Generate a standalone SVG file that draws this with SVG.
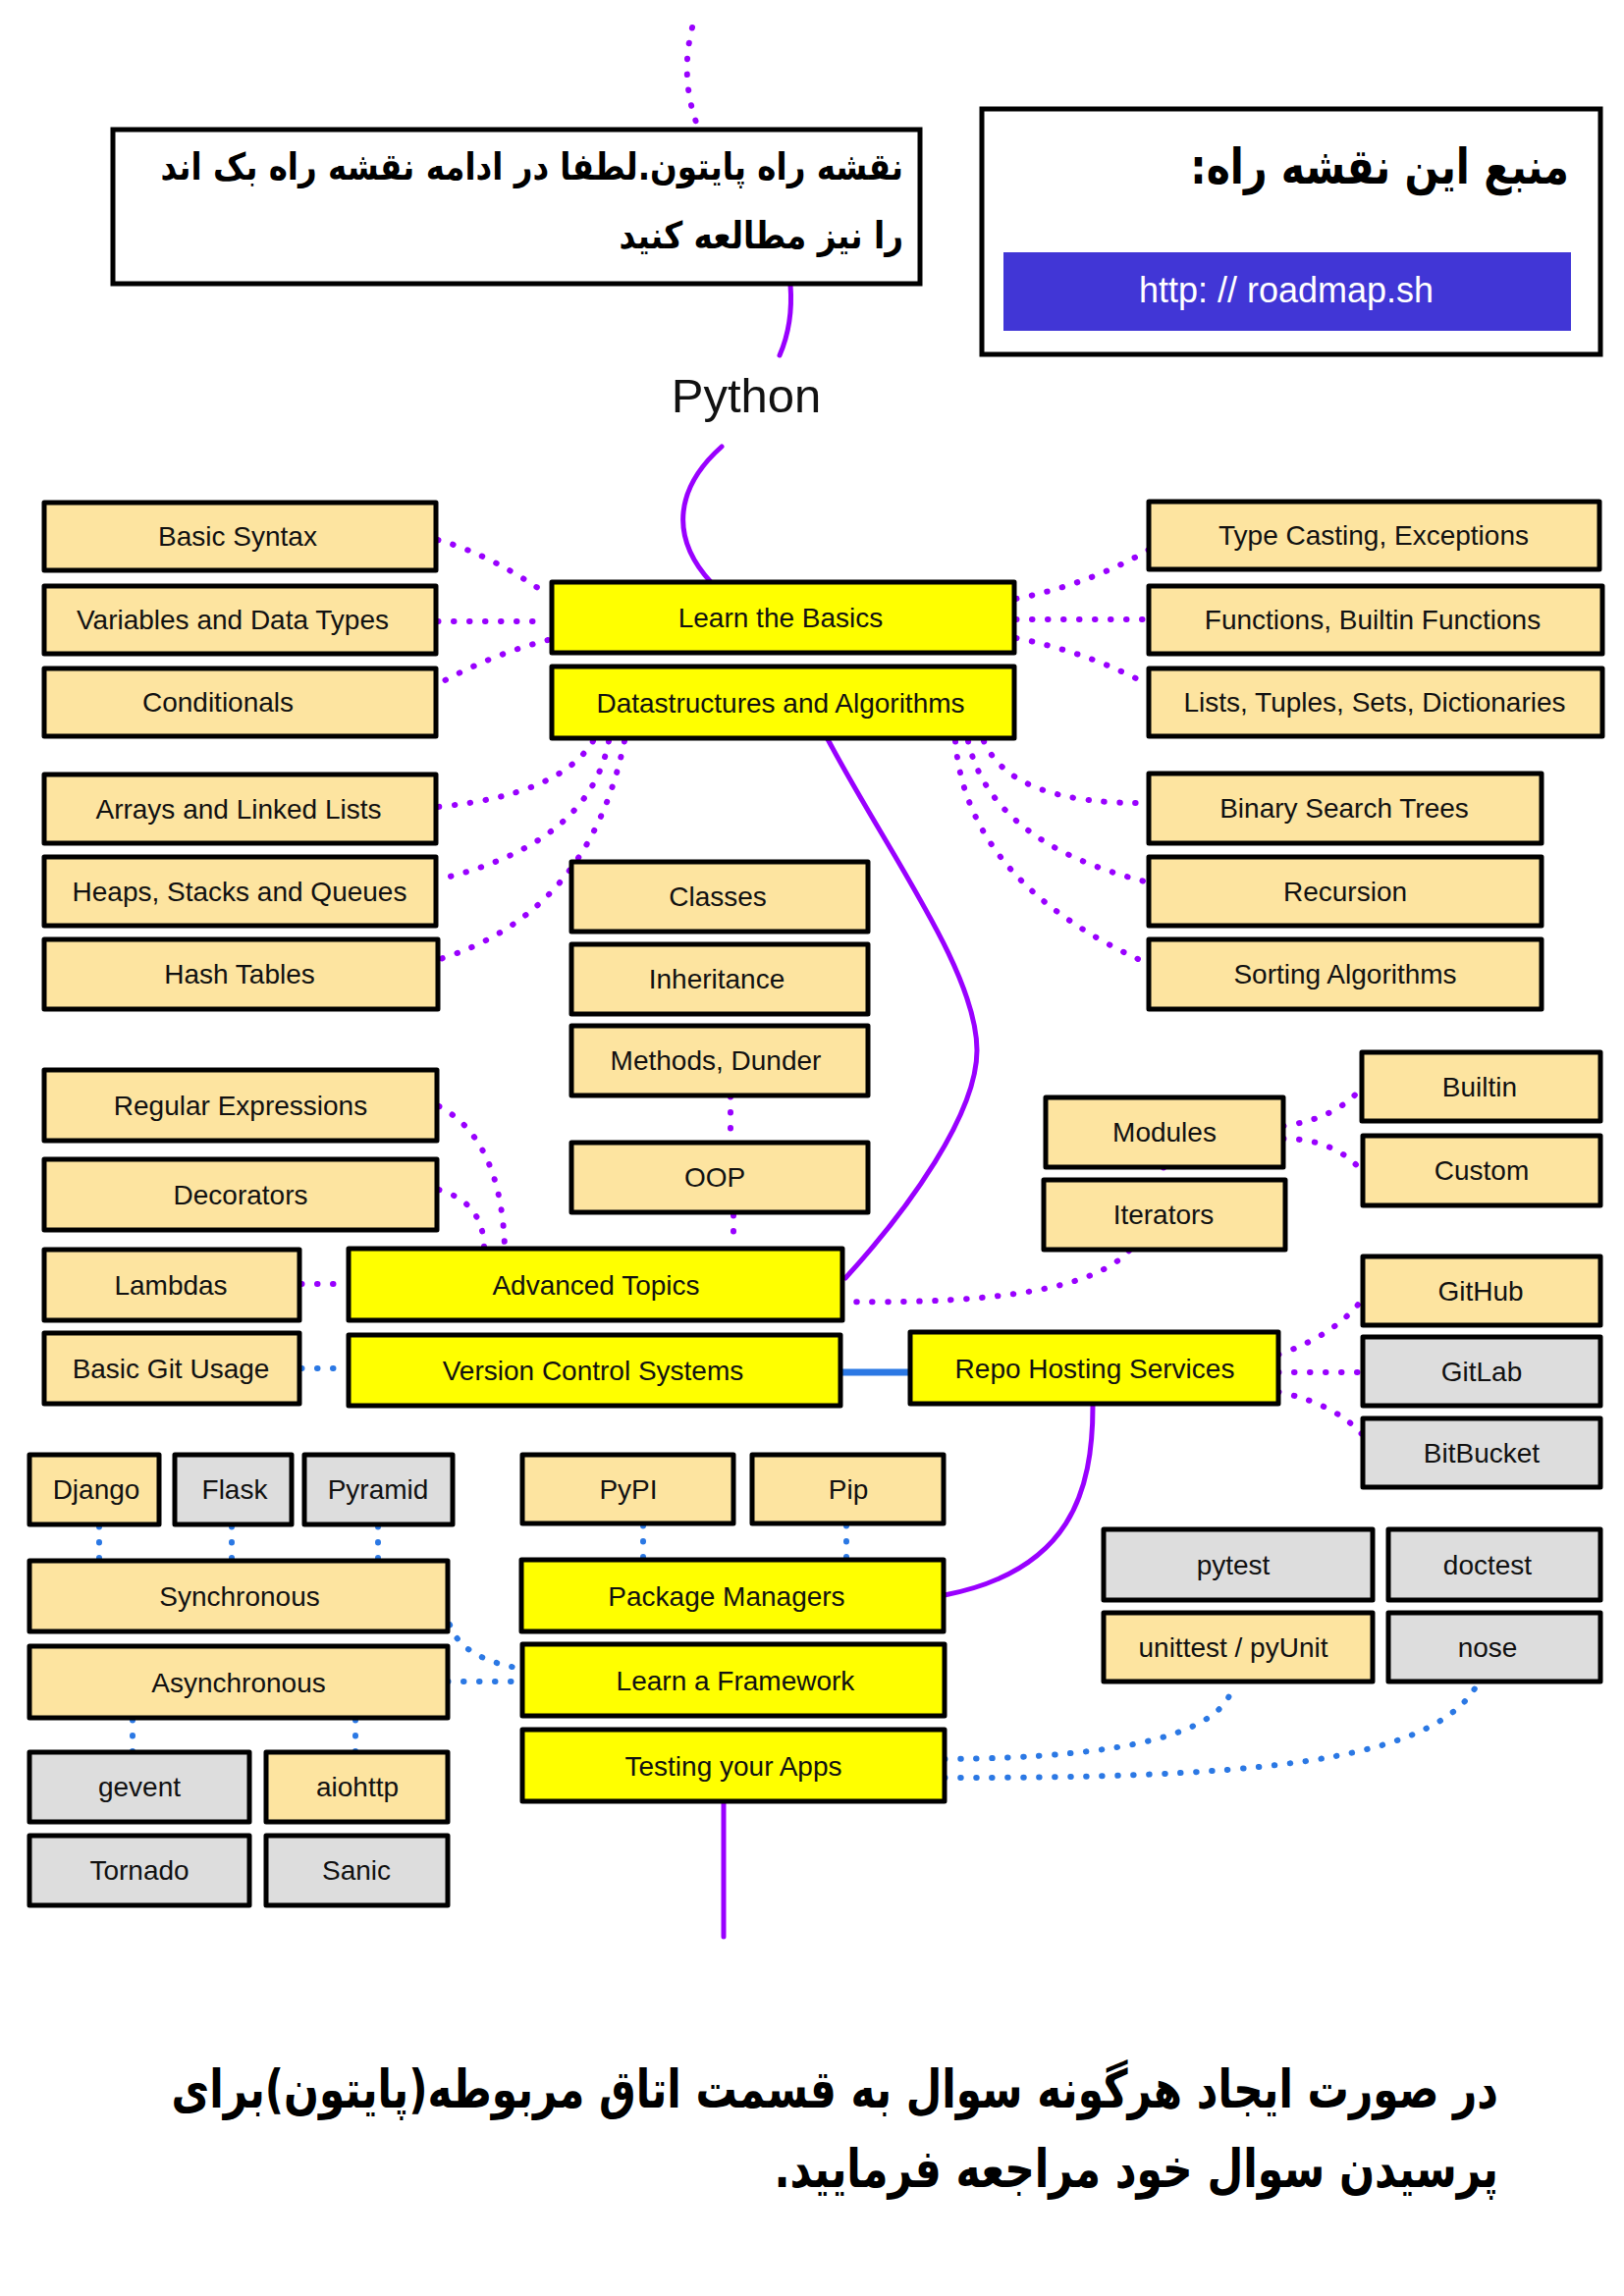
<svg xmlns="http://www.w3.org/2000/svg" width="1654" height="2339" viewBox="0 0 1654 2339">
<style>
.box{stroke:#000;stroke-width:5;stroke-linejoin:round}
.tan{fill:#fde4a0}
.yel{fill:#ffff00}
.gry{fill:#dddddd}
.lbl{font-family:"Liberation Sans",Arial,sans-serif;font-size:28px;fill:#111;text-anchor:middle}
.fa{font-family:"DejaVu Sans","Noto Sans",sans-serif;font-weight:bold;fill:#000}
.pd{fill:none;stroke:#9900ff;stroke-width:6;stroke-linecap:round;stroke-dasharray:0.5 15.5}
.bd{fill:none;stroke:#2b78e4;stroke-width:6;stroke-linecap:round;stroke-dasharray:0.5 15.5}
.ps{fill:none;stroke:#9900ff;stroke-width:5;stroke-linecap:round}
</style>
<rect width="1654" height="2339" fill="#ffffff"/>

<g id="connectors">
  <path class="ps" d="M805,290 Q808,330 794,362"/>
  <path class="ps" d="M735,455 C690,495 680,545 724,593"/>
  <path class="ps" d="M843,753 C905,870 995,990 995,1070 C995,1135 925,1232 861,1302"/>
  <path class="ps" d="M1113,1432 C1113,1520 1090,1600 962,1625"/>
  <path class="ps" d="M737,1837 L737,1973"/>
  <path class="pd" d="M705,28 Q692,80 711,130"/>
  <path class="pd" d="M446,550 Q500,565 558,606"/>
  <path class="pd" d="M446,633 L558,633"/>
  <path class="pd" d="M558,652 Q500,667 446,697"/>
  <path class="pd" d="M1035,610 Q1110,595 1170,560"/>
  <path class="pd" d="M1035,631 L1170,631"/>
  <path class="pd" d="M1035,650 Q1110,665 1170,698"/>
  <path class="pd" d="M604,755 Q570,810 446,822"/>
  <path class="pd" d="M620,755 Q600,860 446,896"/>
  <path class="pd" d="M636,755 Q600,930 448,977"/>
  <path class="pd" d="M1002,755 Q1030,820 1170,818"/>
  <path class="pd" d="M986,755 Q1010,860 1170,899"/>
  <path class="pd" d="M973,755 Q985,900 1170,982"/>
  <path class="pd" d="M744,1117 L744,1162"/>
  <path class="pd" d="M747,1238 L747,1270"/>
  <path class="pd" d="M447,1127 Q510,1160 514,1270"/>
  <path class="pd" d="M447,1212 Q492,1225 493,1270"/>
  <path class="pd" d="M307,1308 L355,1308"/>
  <path class="pd" d="M1185,1189 L1185,1201"/>
  <path class="pd" d="M1150,1274 Q1100,1330 860,1326"/>
  <path class="pd" d="M1307,1147 Q1360,1140 1387,1108"/>
  <path class="pd" d="M1307,1160 Q1360,1160 1388,1194"/>
  <path class="pd" d="M1302,1380 Q1360,1360 1388,1323"/>
  <path class="pd" d="M1302,1398 L1388,1398"/>
  <path class="pd" d="M1302,1418 Q1360,1430 1388,1462"/>
  <path class="bd" d="M307,1394 L355,1394"/>
  <path fill="none" stroke="#2b78e4" stroke-width="7" d="M856,1398 L927,1398"/>
  <path class="bd" d="M101,1555 L101,1590"/>
  <path class="bd" d="M236,1555 L236,1590"/>
  <path class="bd" d="M385,1555 L385,1590"/>
  <path class="bd" d="M655,1554 L655,1589"/>
  <path class="bd" d="M862,1554 L862,1589"/>
  <path class="bd" d="M458,1655 Q470,1690 532,1700"/>
  <path class="bd" d="M456,1713 L532,1713"/>
  <path class="bd" d="M135,1752 L135,1785"/>
  <path class="bd" d="M362,1752 L362,1785"/>
  <path class="bd" d="M962,1792 Q1245,1790 1256,1715"/>
  <path class="bd" d="M962,1811 C1250,1811 1460,1800 1505,1715"/>
</g>

<g id="note">
  <rect x="115" y="132" width="822" height="157" fill="#fff" stroke="#000" stroke-width="5"/>
  <text class="fa" x="0" y="0" font-size="38" direction="rtl" text-anchor="start" transform="translate(920,183) scale(0.855,1)">نقشه راه پایتون.لطفا در ادامه نقشه راه بک اند</text>
  <text class="fa" x="0" y="0" font-size="38" direction="rtl" text-anchor="start" transform="translate(920,253) scale(0.86,1)">را نیز مطالعه کنید</text>
</g>

<g id="source">
  <rect x="1000" y="111" width="630" height="250" fill="#fff" stroke="#000" stroke-width="5"/>
  <text class="fa" x="0" y="0" font-size="50" direction="rtl" text-anchor="start" transform="translate(1598,187) scale(0.82,1)">منبع این نقشه راه:</text>
  <rect x="1022" y="257" width="578" height="80" fill="#4136d6"/>
  <text x="1310" y="308" font-family="Liberation Sans, Arial, sans-serif" font-size="36" fill="#fff" text-anchor="middle">http: // roadmap.sh</text>
</g>

<g id="python">
  <text x="760" y="420" font-family="Liberation Sans, Arial, sans-serif" font-size="49" fill="#111" text-anchor="middle">Python</text>
</g>

<g id="basic-syntax"><rect class="box tan" x="45" y="512" width="399" height="69"/><text class="lbl" x="242" y="556">Basic Syntax</text></g>
<g id="variables"><rect class="box tan" x="45" y="597" width="399" height="69"/><text class="lbl" x="237" y="641">Variables and Data Types</text></g>
<g id="conditionals"><rect class="box tan" x="45" y="681" width="399" height="69"/><text class="lbl" x="222" y="725">Conditionals</text></g>
<g id="learn-basics"><rect class="box yel" x="562" y="593" width="471" height="72"/><text class="lbl" x="795" y="639">Learn the Basics</text></g>
<g id="datastructures"><rect class="box yel" x="562" y="679" width="471" height="73"/><text class="lbl" x="795" y="726">Datastructures and Algorithms</text></g>
<g id="type-casting"><rect class="box tan" x="1170" y="511" width="459" height="69"/><text class="lbl" x="1399" y="555">Type Casting, Exceptions</text></g>
<g id="functions"><rect class="box tan" x="1170" y="597" width="462" height="69"/><text class="lbl" x="1398" y="641">Functions, Builtin Functions</text></g>
<g id="lists"><rect class="box tan" x="1170" y="681" width="462" height="69"/><text class="lbl" x="1400" y="725">Lists, Tuples, Sets, Dictionaries</text></g>
<g id="arrays"><rect class="box tan" x="45" y="789" width="399" height="70"/><text class="lbl" x="243" y="834">Arrays and Linked Lists</text></g>
<g id="heaps"><rect class="box tan" x="45" y="873" width="399" height="70"/><text class="lbl" x="244" y="918">Heaps, Stacks and Queues</text></g>
<g id="hash-tables"><rect class="box tan" x="45" y="957" width="401" height="71"/><text class="lbl" x="244" y="1002">Hash Tables</text></g>
<g id="bst"><rect class="box tan" x="1170" y="788" width="400" height="71"/><text class="lbl" x="1369" y="833">Binary Search Trees</text></g>
<g id="recursion"><rect class="box tan" x="1170" y="873" width="400" height="70"/><text class="lbl" x="1370" y="918">Recursion</text></g>
<g id="sorting"><rect class="box tan" x="1170" y="957" width="400" height="71"/><text class="lbl" x="1370" y="1002">Sorting Algorithms</text></g>
<g id="classes"><rect class="box tan" x="582" y="878" width="302" height="71"/><text class="lbl" x="731" y="923">Classes</text></g>
<g id="inheritance"><rect class="box tan" x="582" y="962" width="302" height="71"/><text class="lbl" x="730" y="1007">Inheritance</text></g>
<g id="methods"><rect class="box tan" x="582" y="1045" width="302" height="71"/><text class="lbl" x="729" y="1090">Methods, Dunder</text></g>
<g id="oop"><rect class="box tan" x="582" y="1164" width="302" height="71"/><text class="lbl" x="728" y="1209">OOP</text></g>
<g id="regex"><rect class="box tan" x="45" y="1090" width="400" height="72"/><text class="lbl" x="245" y="1136">Regular Expressions</text></g>
<g id="decorators"><rect class="box tan" x="45" y="1181" width="400" height="72"/><text class="lbl" x="245" y="1227">Decorators</text></g>
<g id="lambdas"><rect class="box tan" x="45" y="1273" width="260" height="72"/><text class="lbl" x="174" y="1319">Lambdas</text></g>
<g id="advanced"><rect class="box yel" x="355" y="1272" width="503" height="73"/><text class="lbl" x="607" y="1319">Advanced Topics</text></g>
<g id="basic-git"><rect class="box tan" x="45" y="1358" width="260" height="72"/><text class="lbl" x="174" y="1404">Basic Git Usage</text></g>
<g id="vcs"><rect class="box yel" x="355" y="1360" width="501" height="72"/><text class="lbl" x="604" y="1406">Version Control Systems</text></g>
<g id="repo-hosting"><rect class="box yel" x="927" y="1357" width="375" height="73"/><text class="lbl" x="1115" y="1404">Repo Hosting Services</text></g>
<g id="modules"><rect class="box tan" x="1065" y="1118" width="242" height="71"/><text class="lbl" x="1186" y="1163">Modules</text></g>
<g id="iterators"><rect class="box tan" x="1063" y="1202" width="246" height="71"/><text class="lbl" x="1185" y="1247">Iterators</text></g>
<g id="builtin"><rect class="box tan" x="1387" y="1072" width="243" height="70"/><text class="lbl" x="1507" y="1117">Builtin</text></g>
<g id="custom"><rect class="box tan" x="1388" y="1157" width="242" height="71"/><text class="lbl" x="1509" y="1202">Custom</text></g>
<g id="github"><rect class="box tan" x="1388" y="1280" width="242" height="70"/><text class="lbl" x="1508" y="1325">GitHub</text></g>
<g id="gitlab"><rect class="box gry" x="1388" y="1362" width="242" height="70"/><text class="lbl" x="1509" y="1407">GitLab</text></g>
<g id="bitbucket"><rect class="box gry" x="1388" y="1445" width="242" height="70"/><text class="lbl" x="1509" y="1490">BitBucket</text></g>
<g id="django"><rect class="box tan" x="30" y="1482" width="132" height="71"/><text class="lbl" x="98" y="1527">Django</text></g>
<g id="flask"><rect class="box gry" x="178" y="1482" width="119" height="71"/><text class="lbl" x="239" y="1527">Flask</text></g>
<g id="pyramid"><rect class="box gry" x="310" y="1482" width="151" height="71"/><text class="lbl" x="385" y="1527">Pyramid</text></g>
<g id="pypi"><rect class="box tan" x="532" y="1482" width="215" height="70"/><text class="lbl" x="640" y="1527">PyPI</text></g>
<g id="pip"><rect class="box tan" x="766" y="1482" width="195" height="70"/><text class="lbl" x="864" y="1527">Pip</text></g>
<g id="synchronous"><rect class="box tan" x="30" y="1590" width="426" height="72"/><text class="lbl" x="244" y="1636">Synchronous</text></g>
<g id="asynchronous"><rect class="box tan" x="30" y="1677" width="426" height="73"/><text class="lbl" x="243" y="1724">Asynchronous</text></g>
<g id="package-managers"><rect class="box yel" x="531" y="1589" width="430" height="73"/><text class="lbl" x="740" y="1636">Package Managers</text></g>
<g id="learn-framework"><rect class="box yel" x="532" y="1675" width="430" height="73"/><text class="lbl" x="749" y="1722">Learn a Framework</text></g>
<g id="testing"><rect class="box yel" x="532" y="1762" width="430" height="73"/><text class="lbl" x="747" y="1809">Testing your Apps</text></g>
<g id="pytest"><rect class="box gry" x="1124" y="1558" width="274" height="72"/><text class="lbl" x="1256" y="1604">pytest</text></g>
<g id="doctest"><rect class="box gry" x="1414" y="1558" width="216" height="72"/><text class="lbl" x="1515" y="1604">doctest</text></g>
<g id="unittest"><rect class="box tan" x="1124" y="1643" width="274" height="70"/><text class="lbl" x="1256" y="1688">unittest / pyUnit</text></g>
<g id="nose"><rect class="box gry" x="1414" y="1643" width="216" height="70"/><text class="lbl" x="1515" y="1688">nose</text></g>
<g id="gevent"><rect class="box gry" x="30" y="1785" width="224" height="71"/><text class="lbl" x="142" y="1830">gevent</text></g>
<g id="aiohttp"><rect class="box tan" x="271" y="1785" width="185" height="71"/><text class="lbl" x="364" y="1830">aiohttp</text></g>
<g id="tornado"><rect class="box gry" x="30" y="1870" width="224" height="71"/><text class="lbl" x="142" y="1915">Tornado</text></g>
<g id="sanic"><rect class="box gry" x="271" y="1870" width="185" height="71"/><text class="lbl" x="363" y="1915">Sanic</text></g>

<g id="footer">
  <text class="fa" x="0" y="0" font-size="54" direction="rtl" text-anchor="start" transform="translate(1526,2147) scale(0.781,1)">در صورت ایجاد هرگونه سوال به قسمت اتاق مربوطه(پایتون)برای</text>
  <text class="fa" x="0" y="0" font-size="54" direction="rtl" text-anchor="start" transform="translate(1526,2228) scale(0.786,1)">پرسیدن سوال خود مراجعه فرمایید.</text>
</g>
</svg>
